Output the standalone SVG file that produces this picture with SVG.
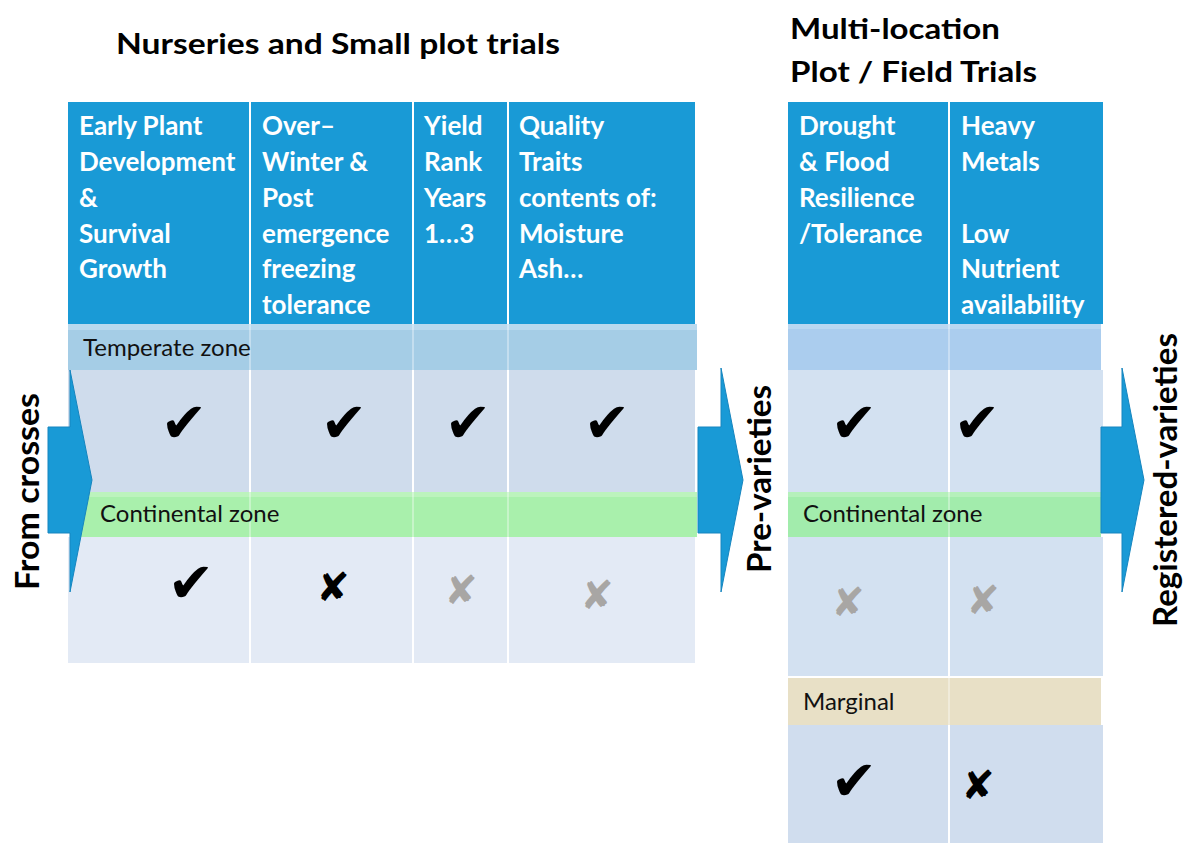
<svg xmlns="http://www.w3.org/2000/svg" width="1185" height="843" viewBox="0 0 1185 843">
<defs>
<style>
.title{font-family:"Lato","Liberation Sans",sans-serif;font-weight:700;font-size:28px;fill:#000}
.hdr{font-family:"Lato","Liberation Sans",sans-serif;font-weight:700;font-size:26px;fill:#fff}
.band{font-family:"Lato","Liberation Sans",sans-serif;font-size:24px;fill:#111}
.vert{font-family:"Lato","Liberation Sans",sans-serif;font-weight:700;font-size:33px;fill:#000}
.chk{font-family:"DejaVu Sans",sans-serif;font-size:56px;fill:#000;text-anchor:middle}
.xb{font-family:"DejaVu Sans",sans-serif;font-size:40px;fill:#000;text-anchor:middle}
.xg{font-family:"DejaVu Sans",sans-serif;font-size:40px;fill:#a8a6a4;text-anchor:middle}
.hbg{fill:#199ad6}
.arrow{fill:#199ad6;stroke:#1685bf;stroke-width:1}
.div{stroke:#fff;stroke-width:2}
.divf{stroke:#fff;stroke-width:2;stroke-opacity:0.35}
</style>
</defs>
<rect width="1185" height="843" fill="#fff"/>

<g id="title-left"><text class="title" x="116" y="54" textLength="444" lengthAdjust="spacingAndGlyphs">Nurseries and Small plot trials</text></g>
<g id="title-right">
<text class="title" x="790" y="39" textLength="210" lengthAdjust="spacingAndGlyphs">Multi-location</text>
<text class="title" x="790" y="82" textLength="247" lengthAdjust="spacingAndGlyphs">Plot / Field Trials</text>
</g>

<g id="left-table">
<rect class="hbg" x="68" y="102" width="181" height="222"/>
<rect class="hbg" x="251" y="102" width="161" height="222"/>
<rect class="hbg" x="414" y="102" width="93" height="222"/>
<rect class="hbg" x="509" y="102" width="186" height="222"/>
<rect x="68" y="370" width="627" height="122" fill="#cfdcec"/>
<rect x="68" y="537" width="627" height="126" fill="#e3eaf5"/>
<line class="div" x1="250" y1="370" x2="250" y2="663"/>
<line class="div" x1="413" y1="370" x2="413" y2="663"/>
<line class="div" x1="508" y1="370" x2="508" y2="663"/>
<rect x="68" y="324" width="629" height="46" fill="#a5cde6"/>
<rect x="68" y="324" width="629" height="6" fill="#b9d9ee"/>
<rect x="80" y="492" width="617" height="45" fill="#a9f0ac"/>
<rect x="80" y="492" width="617" height="5" fill="#bcf3bd"/>
<line class="divf" x1="250" y1="324" x2="250" y2="370"/>
<line class="divf" x1="413" y1="324" x2="413" y2="370"/>
<line class="divf" x1="508" y1="324" x2="508" y2="370"/>
<line class="divf" x1="250" y1="492" x2="250" y2="537"/>
<line class="divf" x1="413" y1="492" x2="413" y2="537"/>
<line class="divf" x1="508" y1="492" x2="508" y2="537"/>
<text class="hdr" x="79" y="135">Early Plant</text>
<text class="hdr" x="79" y="171">Development</text>
<text class="hdr" x="79" y="207">&amp;</text>
<text class="hdr" x="79" y="243">Survival</text>
<text class="hdr" x="79" y="278">Growth</text>
<text class="hdr" x="262" y="135">Over–</text>
<text class="hdr" x="262" y="171">Winter &amp;</text>
<text class="hdr" x="262" y="207">Post</text>
<text class="hdr" x="262" y="243">emergence</text>
<text class="hdr" x="262" y="278">freezing</text>
<text class="hdr" x="262" y="314">tolerance</text>
<text class="hdr" x="424" y="135">Yield</text>
<text class="hdr" x="424" y="171">Rank</text>
<text class="hdr" x="424" y="207">Years</text>
<text class="hdr" x="424" y="243">1…3</text>
<text class="hdr" x="519" y="135">Quality</text>
<text class="hdr" x="519" y="171">Traits</text>
<text class="hdr" x="519" y="207">contents of:</text>
<text class="hdr" x="519" y="243">Moisture</text>
<text class="hdr" x="519" y="278">Ash…</text>
<text class="band" x="83" y="356">Temperate zone</text>
<text class="band" x="100" y="522">Continental zone</text>
<text class="chk" x="184" y="442">✔</text>
<text class="chk" x="344" y="442">✔</text>
<text class="chk" x="468" y="442">✔</text>
<text class="chk" x="607" y="442">✔</text>
<text class="chk" x="191" y="602">✔</text>
<text class="xb" x="333" y="601">✘</text>
<text class="xg" x="461" y="604">✘</text>
<text class="xg" x="597" y="609">✘</text>
</g>

<g id="right-table">
<rect class="hbg" x="788" y="102" width="160" height="222"/>
<rect class="hbg" x="950" y="102" width="153" height="222"/>
<rect x="788" y="370" width="315" height="122" fill="#d3e1f1"/>
<rect x="788" y="537" width="315" height="139" fill="#d3e1f1"/>
<rect x="788" y="725" width="315" height="118" fill="#d0ddee"/>
<line class="div" x1="949" y1="370" x2="949" y2="843"/>
<rect x="788" y="324" width="313" height="46" fill="#abcdee"/>
<rect x="788" y="324" width="313" height="5" fill="#bad7f1"/>
<rect x="788" y="492" width="313" height="45" fill="#a2ecac"/>
<rect x="788" y="492" width="313" height="5" fill="#b5f0bb"/>
<rect x="788" y="678" width="313" height="47" fill="#e8e0c6"/>
<line class="divf" x1="949" y1="324" x2="949" y2="370"/>
<line class="divf" x1="949" y1="492" x2="949" y2="537"/>
<line class="divf" x1="949" y1="678" x2="949" y2="725"/>
<text class="hdr" x="799" y="135">Drought</text>
<text class="hdr" x="799" y="171">&amp; Flood</text>
<text class="hdr" x="799" y="207">Resilience</text>
<text class="hdr" x="799" y="243">/Tolerance</text>
<text class="hdr" x="961" y="135">Heavy</text>
<text class="hdr" x="961" y="171">Metals</text>
<text class="hdr" x="961" y="243">Low</text>
<text class="hdr" x="961" y="278">Nutrient</text>
<text class="hdr" x="961" y="314">availability</text>
<text class="band" x="803" y="522">Continental zone</text>
<text class="band" x="803" y="710">Marginal</text>
<text class="chk" x="854" y="442">✔</text>
<text class="chk" x="977" y="442">✔</text>
<text class="xg" x="848" y="616">✘</text>
<text class="xg" x="983" y="614">✘</text>
<text class="chk" x="854" y="800">✔</text>
<text class="xb" x="978" y="799">✘</text>
</g>

<g id="connectors">
<path class="arrow" d="M48,427 H70 V370 L92,480 L70,592 V533 H48 Z"/>
<path class="arrow" d="M698,427 H721 V368 L743,480 L721,592 V533 H698 Z"/>
<path class="arrow" d="M1101,427 H1122 V368 L1144,480 L1122,592 V533 H1101 Z"/>
</g>

<g id="label-from-crosses"><text class="vert" transform="translate(39,590) rotate(-90)" textLength="197" lengthAdjust="spacingAndGlyphs">From crosses</text></g>
<g id="label-pre-varieties"><text class="vert" transform="translate(771,573) rotate(-90)" textLength="188" lengthAdjust="spacingAndGlyphs">Pre-varieties</text></g>
<g id="label-registered"><text class="vert" transform="translate(1177,627) rotate(-90)" textLength="294" lengthAdjust="spacingAndGlyphs">Registered-varieties</text></g>
</svg>
